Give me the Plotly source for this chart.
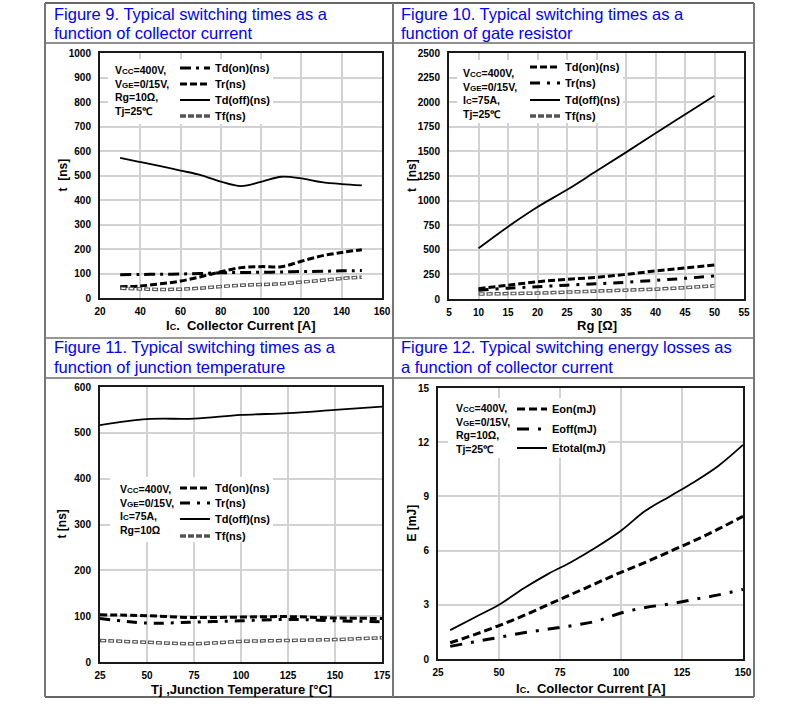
import plotly.graph_objects as go

W, H = 796, 723

# ---------------- data ----------------
# Figure 9: switching times vs collector current
f9_ic = [30, 40, 50, 60, 70, 80, 90, 100, 110, 120, 130, 140, 150]
f9_tdon = [95, 96, 97, 98, 100, 103, 104, 105, 106, 108, 109, 111, 112]
f9_tr = [46, 49, 58, 69, 87, 107, 124, 128, 128, 150, 172, 186, 197]
f9_tdoff = [572, 555, 538, 520, 502, 475, 457, 474, 495, 488, 473, 465, 460]
f9_tf = [40, 37, 35, 36, 40, 47, 52, 55, 58, 65, 72, 80, 85]

# Figure 10: switching times vs gate resistor
f10_rg = [10, 15, 20, 25, 30, 35, 40, 45, 50]
f10_tdon = [105, 140, 175, 200, 220, 250, 285, 315, 345]
f10_tr = [90, 110, 125, 140, 155, 170, 190, 210, 235]
f10_tdoff = [515, 735, 935, 1110, 1300, 1490, 1685, 1875, 2065]
f10_tf = [50, 55, 60, 70, 80, 90, 100, 115, 135]

# Figure 11: switching times vs junction temperature
f11_tj = [25, 50, 75, 100, 125, 150, 175]
f11_tdon = [103, 101, 97, 98, 99, 96, 95]
f11_tr = [95, 85, 87, 90, 93, 90, 88]
f11_tdoff = [517, 530, 531, 539, 543, 550, 557]
f11_tf = [47, 43, 40, 45, 47, 49, 53]

# Figure 12: switching energy vs collector current
f12_ic = [30, 40, 50, 60, 70, 80, 90, 100, 110, 120, 130, 140, 150]
f12_eon = [0.9, 1.35, 1.85, 2.4, 3.0, 3.6, 4.2, 4.8, 5.35, 5.95, 6.55, 7.2, 7.9]
f12_eoff = [0.7, 0.95, 1.2, 1.45, 1.65, 1.85, 2.1, 2.55, 2.85, 3.05, 3.3, 3.55, 3.85]
f12_etotal = [1.6, 2.3, 3.0, 3.9, 4.7, 5.4, 6.2, 7.1, 8.2, 9.0, 9.8, 10.7, 11.85]

titles = [
    ("Figure 9. Typical switching times as a", "function of collector current"),
    ("Figure 10. Typical switching times as a", "function of gate resistor"),
    ("Figure 11. Typical switching times as a", "function of junction temperature"),
    ("Figure 12. Typical switching energy losses as", "a function of collector current"),
]

SUB = "<span style='font-size:8px'>%s</span>"
SUBX = "<span style='font-size:9px'>%s</span>"
cond9 = "<br>".join(["V" + SUB % "CC" + "=400V,", "V" + SUB % "GE" + "=0/15V,", "Rg=10Ω,", "Tj=25℃"])
cond10 = "<br>".join(["V" + SUB % "CC" + "=400V,", "V" + SUB % "GE" + "=0/15V,", "I" + SUB % "C" + "=75A,", "Tj=25℃"])
cond11 = "<br>".join(["V" + SUB % "CC" + "=400V,", "V" + SUB % "GE" + "=0/15V,", "I" + SUB % "C" + "=75A,", "Rg=10Ω"])
cond12 = "<br>".join(["V" + SUB % "CC" + "=400V,", "V" + SUB % "GE" + "=0/15V,", "Rg=10Ω,", "Tj=25℃"])

FONT = "Liberation Sans, Arial, sans-serif"

# ---------------- layout geometry (pixels) ----------------
boxes = {
    1: (100, 382, 53, 298),
    2: (449, 744, 53, 299),
    3: (100, 382, 387, 662),
    4: (438, 743, 388, 659),
}


def px_x(p):
    return p / W


def px_y(p):
    return 1 - p / H


fig = go.Figure()

leg_count = [0]
legends = {}


def add_series(xs, ys, k, name, dash, width, text_x, text_y, color="black", hollow=False):
    leg_count[0] += 1
    n = leg_count[0]
    key = "legend" if n == 1 else "legend%d" % n
    xa = "x" if k == 1 else "x%d" % k
    ya = "y" if k == 1 else "y%d" % k
    fig.add_trace(go.Scatter(
        x=xs, y=ys, xaxis=xa, yaxis=ya, name=name, mode="lines",
        line=dict(color=color, width=width, dash=dash, shape="spline", smoothing=1.0),
        legend=key, showlegend=True, hoverinfo="skip"))
    if hollow:
        fig.add_trace(go.Scatter(
            x=xs, y=ys, xaxis=xa, yaxis=ya, mode="lines",
            line=dict(color="white", width=1.4, dash="0px,1.2px,3.6px,3.2px",
                      shape="spline", smoothing=1.0),
            showlegend=False, hoverinfo="skip"))
    legends[key] = dict(
        x=px_x(text_x - 40), xanchor="left", y=px_y(text_y), yanchor="middle",
        bgcolor="rgba(0,0,0,0)", borderwidth=0,
        font=dict(family=FONT, size=11, color="black", weight="bold"))


DASH = "7px,3px"
DASHDOT = "11px,5px,3px,5px"
HOLLOW = "6px,2px"

# Figure 9
add_series(f9_ic, f9_tdon, 1, "Td(on)(ns)", DASHDOT, 3, 215, 68)
add_series(f9_ic, f9_tr, 1, "Tr(ns)", DASH, 3, 215, 84)
add_series(f9_ic, f9_tdoff, 1, "Td(off)(ns)", "solid", 1.8, 215, 100)
add_series(f9_ic, f9_tf, 1, "Tf(ns)", HOLLOW, 3.5, 215, 116, color="#555", hollow=True)
# Figure 10
add_series(f10_rg, f10_tdon, 2, "Td(on)(ns)", DASH, 3, 565, 67)
add_series(f10_rg, f10_tr, 2, "Tr(ns)", "10px,7px,3px,7px", 3, 565, 83)
add_series(f10_rg, f10_tdoff, 2, "Td(off)(ns)", "solid", 1.8, 565, 100)
add_series(f10_rg, f10_tf, 2, "Tf(ns)", HOLLOW, 3.5, 565, 116, color="#555", hollow=True)
# Figure 11
add_series(f11_tj, f11_tdon, 3, "Td(on)(ns)", DASH, 3, 215, 488)
add_series(f11_tj, f11_tr, 3, "Tr(ns)", "10px,7px,3px,7px", 3, 215, 503)
add_series(f11_tj, f11_tdoff, 3, "Td(off)(ns)", "solid", 1.8, 215, 519)
add_series(f11_tj, f11_tf, 3, "Tf(ns)", HOLLOW, 3.5, 215, 536, color="#555", hollow=True)
# Figure 12
add_series(f12_ic, f12_eon, 4, "Eon(mJ)", "8px,4px", 3, 552, 409)
add_series(f12_ic, f12_eoff, 4, "Eoff(mJ)", "12px,9px,3px,9px", 3, 552, 429)
add_series(f12_ic, f12_etotal, 4, "Etotal(mJ)", "solid", 1.8, 552, 448)

axis_base = dict(
    showline=True, linecolor="#1a1a1a", linewidth=2, mirror=True,
    showgrid=True, gridcolor="#d2d2d2", gridwidth=2, zeroline=False,
    ticks="", fixedrange=True, automargin=False,
    tickfont=dict(family=FONT, size=10, color="black", weight="bold"),
)

ranges = {
    1: ([20, 160], 20, [0, 1000], 100),
    2: ([5, 55], 5, [0, 2500], 250),
    3: ([25, 175], 25, [0, 600], 100),
    4: ([25, 150], 25, [0, 15], 3),
}

layout_axes = {}
for k, (l, r, t, b) in boxes.items():
    xr, xd, yr, yd = ranges[k]
    xn = "xaxis" if k == 1 else "xaxis%d" % k
    yn = "yaxis" if k == 1 else "yaxis%d" % k
    xa = "x" if k == 1 else "x%d" % k
    ya = "y" if k == 1 else "y%d" % k
    layout_axes[xn] = dict(axis_base, domain=[px_x(l), px_x(r)], range=xr, tick0=xr[0],
                           dtick=xd, anchor=ya, ticklabelstandoff=3)
    layout_axes[yn] = dict(axis_base, domain=[px_y(b), px_y(t)], range=yr, tick0=0,
                           dtick=yd, anchor=xa, ticklabelstandoff=5)

annotations = []
title_pos = [(52, 14, 33), (399, 14, 33), (52, 347, 367), (399, 347, 367)]
for (l1, l2), (x0, y1, y2) in zip(titles, title_pos):
    for txt, yy in ((l1, y1), (l2, y2)):
        annotations.append(dict(text=txt, x=px_x(x0), y=px_y(yy), xref="paper", yref="paper",
                                xanchor="left", yanchor="middle", showarrow=False,
                                font=dict(family=FONT, size=16.5, color="#0000ff")))

xt = {1: ("I" + SUBX % "C" + ".  Collector Current [A]", 326),
      2: ("Rg [Ω]", 326),
      3: ("Tj ,Junction Temperature [°C]", 689),
      4: ("I" + SUBX % "C" + ".  Collector Current [A]", 688)}
yt = {1: ("t  [ns]", 62), 2: ("t  [ns]", 412), 3: ("t [ns]", 61), 4: ("E [mJ]", 411)}
for k, (l, r, t, b) in boxes.items():
    txt, yy = xt[k]
    annotations.append(dict(text=txt, x=px_x((l + r) / 2), y=px_y(yy), xref="paper", yref="paper",
                            xanchor="center", yanchor="middle", showarrow=False,
                            font=dict(family=FONT, size=13, color="black", weight="bold")))
    txt, xx = yt[k]
    annotations.append(dict(text=txt, x=px_x(xx), y=px_y((t + b) / 2), xref="paper", yref="paper",
                            xanchor="center", yanchor="middle", showarrow=False, textangle=-90,
                            font=dict(family=FONT, size=12, color="black", weight="bold")))

conds = [(cond9, 113, 62), (cond10, 461, 65), (cond11, 118, 481), (cond12, 454, 400)]
for txt, xx, yy in conds:
    annotations.append(dict(text=txt, x=px_x(xx), y=px_y(yy), xref="paper", yref="paper",
                            xanchor="left", yanchor="top", align="left", showarrow=False,
                            font=dict(family=FONT, size=10.5, color="black", weight="bold")))

shapes = []
white = [(108, 273, 59, 124), (457, 623, 60, 123), (110, 273, 477, 542), (448, 608, 398, 458)]
for x0, x1, y0, y1 in white:
    shapes.append(dict(type="rect", xref="paper", yref="paper", layer="above",
                       x0=px_x(x0), x1=px_x(x1), y0=px_y(y1), y1=px_y(y0),
                       fillcolor="white", line=dict(width=0)))

for yy, wdt, col in ((3, 1.5, "#333"), (43, 1.2, "#222"), (338, 1.2, "#333"), (378, 1.2, "#222"), (697, 1.5, "#333")):
    shapes.append(dict(type="line", xref="paper", yref="paper", x0=px_x(45), x1=px_x(754),
                       y0=px_y(yy), y1=px_y(yy), line=dict(color=col, width=wdt), layer="above"))
for xx in (45, 393, 754):
    shapes.append(dict(type="line", xref="paper", yref="paper", x0=px_x(xx), x1=px_x(xx),
                       y0=px_y(3), y1=px_y(697), line=dict(color="#777", width=2), layer="above"))

fig.update_layout(
    width=W, height=H, margin=dict(l=0, r=0, t=0, b=0, autoexpand=False),
    paper_bgcolor="white", plot_bgcolor="white",
    annotations=annotations, shapes=shapes,
    **layout_axes, **legends,
)

fig.write_html("out.html", config={"displayModeBar": False})
